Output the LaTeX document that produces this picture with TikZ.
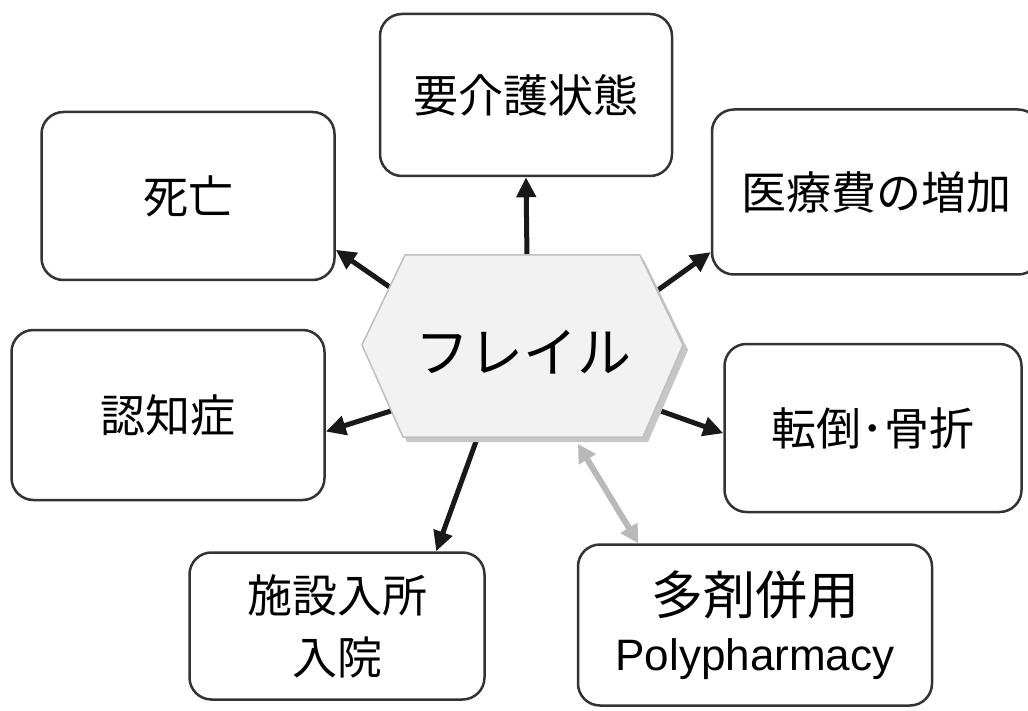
\documentclass[tikz,border=0pt]{standalone}
\usepackage{fontspec}
\newfontfamily\jp{Noto Sans CJK JP}
\newfontfamily\lat{Liberation Sans}
\usetikzlibrary{arrows.meta}
\begin{document}
\begin{tikzpicture}[x=1pt,y=-1pt,
  box/.style={draw=black!80, line width=2.5pt, rounded corners=22pt, inner sep=0pt,
    font=\jp\fontsize{45}{62}\selectfont, align=center},
  arr/.style={line width=5pt, draw=black!90, -{Triangle[length=20pt,width=19pt]}},
  garr/.style={line width=6pt, draw=gray!55,
    {Triangle[length=18pt,width=19pt]}-{Triangle[length=18pt,width=19pt]}},
  hexfill/.style={fill=gray!10, draw=gray!50, line width=1.5pt},
  hexshadow/.style={fill=gray!45}]
\useasboundingbox (0,0) rectangle (1028,711);
\fill[white] (0,0) rectangle (1028,711);

% boxes
\node[box, minimum width=292pt, minimum height=162pt] (youkaigo) at (526,95) {\raisebox{-5pt}{要介護状態}};
\node[box, minimum width=293pt, minimum height=168pt] (shibou) at (188,196) {死亡};
\node[box, minimum width=328pt, minimum height=165pt] (iryou) at (876,192) {医療費の増加};
\node[box, minimum width=313pt, minimum height=170pt] (ninchi) at (168,415) {認知症};
\node[box, minimum width=297pt, minimum height=168pt] (tentou) at (873,428) {転倒･骨折};
\node[box, minimum width=295pt, minimum height=147pt] (shisetsu) at (337,626) {施設入所\\入院};
\node[box, minimum width=354pt, minimum height=161pt] (tazai) at (755,625)
  {{\fontsize{52}{52}\selectfont 多剤併用}\\[-6pt]{\lat\fontsize{44}{48}\selectfont Polypharmacy}};

% arrow start points on the hexagon
\coordinate (hU) at (527,258);
\coordinate (hNW) at (394,290);
\coordinate (hNE) at (658,290);
\coordinate (hW) at (394,410);
\coordinate (hE) at (658,410);
\coordinate (hS) at (478,436);
\coordinate (hP) at (578,444);

\draw[arr] (hU) -- (youkaigo.south);
\draw[arr] (hNW) -- (shibou.-20);
\draw[arr] (hNE) -- (iryou.200);
\draw[arr] (hW) -- (ninchi.-6);
\draw[arr] (hE) -- (tentou.182);
\draw[arr] (hS) -- (shisetsu.37);
\draw[garr] (hP) -- (tazai.145);

% hexagon
\path[hexshadow] (409,260) -- (644,260) -- (688,350) -- (648,442) -- (407,442) -- (366,350) -- cycle;
\path[hexfill] (405,255) -- (640,255) -- (683,345) -- (643,437) -- (403,437) -- (362,345) -- cycle;
\node[font=\jp\fontsize{54}{54}\selectfont, inner sep=0pt] (frail) at (523,352) {フレイル};
\end{tikzpicture}
\end{document}
